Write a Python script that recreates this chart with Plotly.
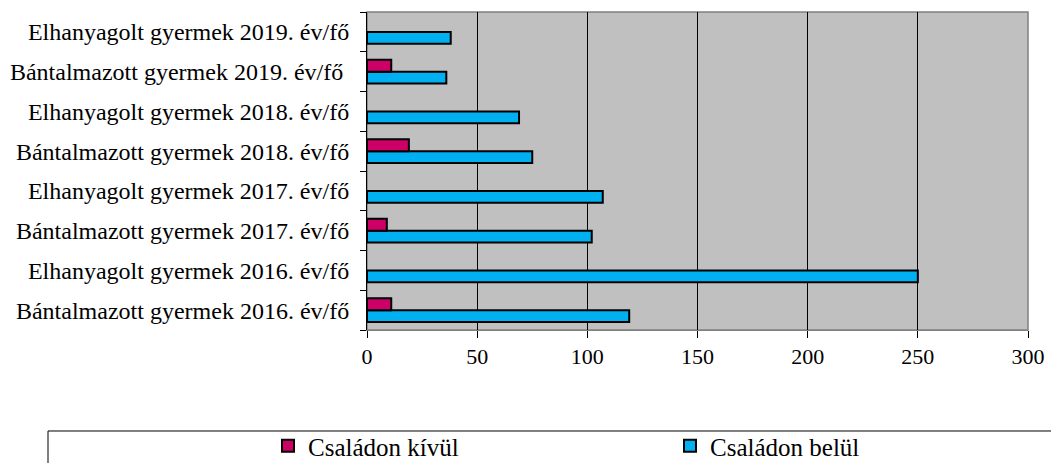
import plotly.graph_objects as go

categories = [
    "Bántalmazott gyermek 2016. év/fő",
    "Elhanyagolt gyermek 2016. év/fő",
    "Bántalmazott gyermek 2017. év/fő",
    "Elhanyagolt gyermek 2017. év/fő",
    "Bántalmazott gyermek 2018. év/fő",
    "Elhanyagolt gyermek 2018. év/fő",
    "Bántalmazott gyermek 2019. év/fő\u00a0",
    "Elhanyagolt gyermek 2019. év/fő",
]
kivul = [11, None, 9, None, 19, None, 11, None]
belul = [119, 250, 102, 107, 75, 69, 36, 38]
x_ticks = [0, 50, 100, 150, 200, 250, 300]

font = "Liberation Serif, Times New Roman, serif"

fig = go.Figure()
# belül first so it sits below kívül inside each group
fig.add_trace(go.Bar(
    y=categories, x=belul, orientation="h", name="Családon belül",
    marker=dict(color="#00B0F0", line=dict(color="black", width=2)),
    legend="legend2",
))
fig.add_trace(go.Bar(
    y=categories, x=kivul, orientation="h", name="Családon kívül",
    marker=dict(color="#CC0066", line=dict(color="black", width=2)),
    legend="legend",
))

leg = dict(
    orientation="h", xref="container", yref="container", y=17 / 463,
    yanchor="middle", xanchor="left", itemwidth=30,
    font=dict(family=font, size=25), bgcolor="rgba(0,0,0,0)",
)

fig.update_layout(
    width=1051, height=463,
    margin=dict(l=367, r=23, t=12, b=133),
    barmode="group", bargap=0.4, bargroupgap=0,
    plot_bgcolor="#C0C0C0", paper_bgcolor="white",
    font=dict(family=font, size=22, color="black"),
    showlegend=True,
    legend=dict(leg, x=268 / 1051),
    legend2=dict(leg, x=670 / 1051),
    shapes=[
        dict(type="rect", xref="paper", yref="paper", x0=0, x1=1, y0=0, y1=1,
             line=dict(color="#808080", width=1.5), layer="below"),
        dict(type="rect", xref="paper", yref="paper", x0=-0.4826, x1=1.1, y0=-0.3176, y1=-0.5,
             line=dict(color="black", width=1), layer="above"),
    ],
)
fig.update_xaxes(
    range=[0, 300], tickvals=x_ticks, showgrid=True, gridcolor="black", gridwidth=1,
    ticks="outside", ticklen=7, tickcolor="black", showline=True, linecolor="#808080",
    zeroline=False, tickfont=dict(size=22), automargin=False,
)
fig.update_yaxes(
    showline=True, linecolor="black", linewidth=1, ticks="outside", ticklen=6,
    tickson="boundaries", tickcolor="black", tickfont=dict(size=24), ticksuffix="  ",
    automargin=False,
)

fig.write_html("out.html", config={"displayModeBar": False},
               post_script="document.body.style.margin='0';")
